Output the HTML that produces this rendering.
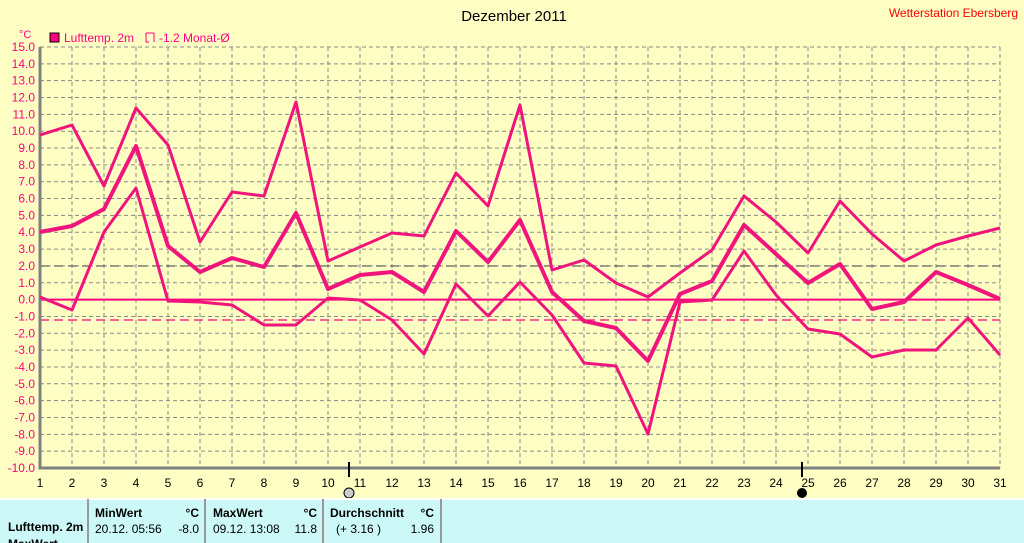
<!DOCTYPE html><html><head><style>body{margin:0;width:1024px;height:543px;overflow:hidden;background:#ffffc4;font-family:"Liberation Sans",sans-serif}</style></head><body>
<svg width="1024" height="543" style="position:absolute;left:0;top:0" font-family="Liberation Sans, sans-serif">
<rect width="1024" height="543" fill="#ffffc4"/>
<text x="514" y="21" font-size="15" text-anchor="middle" fill="#000">Dezember 2011</text>
<text x="1018" y="17" font-size="12" text-anchor="end" fill="#ff0000">Wetterstation Ebersberg</text>
<text x="19" y="38" font-size="11" fill="#ff0080">°C</text>
<rect x="50" y="33" width="9" height="9" fill="#ff0080" stroke="#000"/>
<text x="64" y="42" font-size="12" fill="#ff0080">Lufttemp. 2m</text>
<path d="M146 33h8M146 33v9h3M154 33v9" stroke="#ff0080" fill="none"/>
<text x="159" y="42" font-size="12" fill="#ff0080">-1.2 Monat-Ø</text>
<g id="grid" stroke="#888" stroke-dasharray="4,3" stroke-width="1"></g>
<g id="lab" font-size="12"></g>
<line x1="40" y1="266" x2="1000" y2="266" stroke="#666" stroke-dasharray="9,5" stroke-width="1.3"/>
<line x1="40" y1="320" x2="1000" y2="320" stroke="#ff0080" stroke-dasharray="9,5" stroke-width="1.3"/>
<line x1="40" y1="299.6" x2="1000" y2="299.6" stroke="#ff0080" stroke-width="2"/>
<path d="M40 47V468H1000" stroke="#808080" stroke-width="3" fill="none"/>
<g fill="none" stroke="#f0147c" stroke-linejoin="round">
<polyline id="mx" stroke-width="3"/><polyline id="av" stroke-width="4"/><polyline id="mn" stroke-width="3"/>
</g>
<line x1="349" y1="462" x2="349" y2="477" stroke="#000" stroke-width="2"/>
<line x1="802" y1="462" x2="802" y2="477" stroke="#000" stroke-width="2"/>
<circle cx="349" cy="493" r="5" fill="#ccc" stroke="#000"/>
<circle cx="802" cy="493" r="5" fill="#000"/>
<rect x="0" y="499" width="1024" height="44" fill="#ccf8f8"/>
<line x1="0" y1="499" x2="1024" y2="499" stroke="#fff" stroke-width="2"/>
<g stroke="#999" stroke-width="2"><line x1="88" y1="499" x2="88" y2="543"/><line x1="205" y1="499" x2="205" y2="543"/><line x1="323" y1="499" x2="323" y2="543"/><line x1="441" y1="499" x2="441" y2="543"/></g>
<g font-size="12" fill="#000">
<text x="8" y="531" font-weight="bold">Lufttemp. 2m</text>
<text x="8" y="548" font-weight="bold">MaxWert</text>
<text x="95" y="517" font-weight="bold">MinWert</text><text x="199" y="517" font-weight="bold" text-anchor="end">°C</text>
<text x="95" y="533">20.12.  05:56</text><text x="199" y="533" text-anchor="end">-8.0</text>
<text x="213" y="517" font-weight="bold">MaxWert</text><text x="317" y="517" font-weight="bold" text-anchor="end">°C</text>
<text x="213" y="533">09.12.  13:08</text><text x="317" y="533" text-anchor="end">11.8</text>
<text x="330" y="517" font-weight="bold">Durchschnitt</text><text x="434" y="517" font-weight="bold" text-anchor="end">°C</text>
<text x="336" y="533">(+ 3.16 )</text><text x="434" y="533" text-anchor="end">1.96</text>
</g>
</svg>
<script>
const s="http://www.w3.org/2000/svg",g=document.getElementById('grid'),l=document.getElementById('lab');
function el(p,t,a,tx){const e=document.createElementNS(s,t);for(const k in a)e.setAttribute(k,a[k]);if(tx)e.textContent=tx;p.appendChild(e);}
for(let i=0;i<=25;i++){const y=47+i*421/25,v=15-i;el(g,'line',{x1:40,x2:1000,y1:y,y2:y});el(l,'text',{x:35,y:y+4,'text-anchor':'end',fill:'#ff0080'},v.toFixed(1));}
for(let d=1;d<=31;d++){const x=40+(d-1)*32;if(d>1)el(g,'line',{x1:x,x2:x,y1:47,y2:468});el(l,'text',{x:x,y:487,'text-anchor':'middle',fill:'#000'},d);}
const mx=[135,125,186,108,145,242,192,196,102,261,247,233,236,173,206,105,270,260,283,297,273,250,196,222,253,201,234,261,245,236,228],
av=[232,226,209,146,246,272,258,267,213,289,275,272,292,231,262,220,292,321,328,361,294,281,225,254,283,264,309,302,272,285,299],
mn=[297,310,232,188,301,302,305,325,325,298,300,320,354,284,316,282,315,363,366,434,302,300,251,295,329,334,357,350,350,318,355];
function pts(a){return a.map((y,i)=>(40+i*32)+','+y).join(' ');}
document.getElementById('mx').setAttribute('points',pts(mx));
document.getElementById('av').setAttribute('points',pts(av));
document.getElementById('mn').setAttribute('points',pts(mn));
</script>
</body></html>
